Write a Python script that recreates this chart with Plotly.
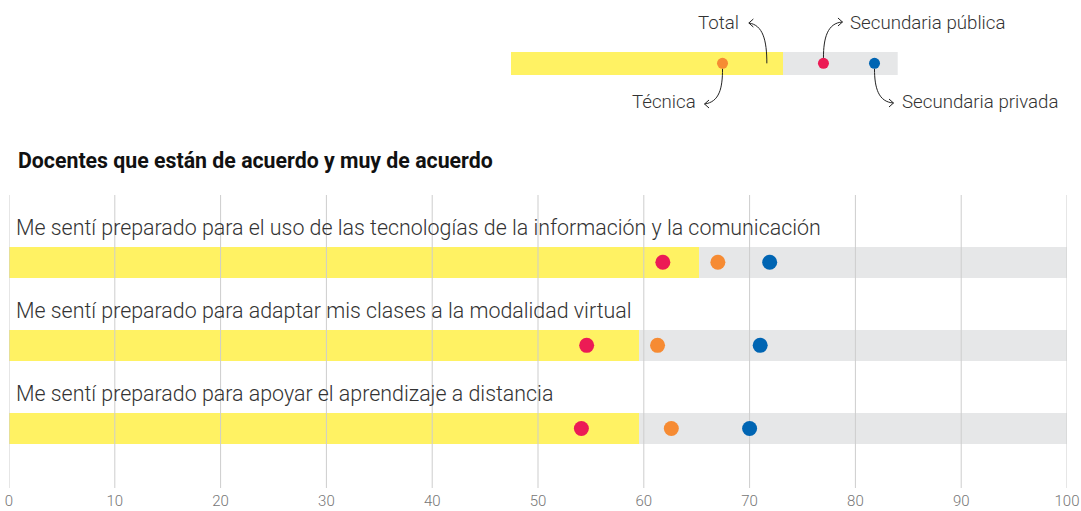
import plotly.graph_objects as go

# ---------------- data ----------------
items = [
    "Me sentí preparado para el uso de las tecnologías de la información y la comunicación",
    "Me sentí preparado para adaptar mis clases a la modalidad virtual",
    "Me sentí preparado para apoyar el aprendizaje a distancia",
]
total = [65.2, 59.5, 59.5]
publica = [61.8, 54.6, 54.1]
tecnica = [67.0, 61.3, 62.6]
privada = [71.9, 71.0, 70.0]

legend_total = 70.3
legend_tecnica = 54.7
legend_publica = 80.8
legend_privada = 94.0

tick_vals = [0, 10, 20, 30, 40, 50, 60, 70, 80, 90, 100]
tick_text = [str(t) for t in tick_vals]

title_text = "Docentes que están de acuerdo y muy de acuerdo"

# ---------------- style ----------------
YELLOW = "#FFF263"
GRAY = "#E6E7E8"
RED = "#EC1B55"
ORANGE = "#F68B33"
BLUE = "#0065B3"
GRID = "#CDCDCD"
FONT = "Roboto"

W, H = 1081, 511
ML, MR, MT, MB = 9, 14, 0, 23
PW, PH = W - ML - MR, H - MT - MB


def px(x):
    return (x - ML) / PW


def py(y):
    return (PH + MT - y) / PH


rows = list(range(len(items)))
y_rng = [2.717, -0.81]

fig = go.Figure()

# background (100%) bars and totals
fig.add_trace(go.Bar(y=rows, x=[100] * len(rows), orientation="h", width=0.373,
                     marker=dict(color=GRAY, line=dict(width=0)), hoverinfo="skip",
                     showlegend=False))
fig.add_trace(go.Bar(y=rows, x=total, orientation="h", width=0.373,
                     marker=dict(color=YELLOW, line=dict(width=0)), name="Total",
                     showlegend=False))

# grid lines drawn above the bars, below the dots
gx, gy = [], []
for t in tick_vals:
    gx += [t, t, None]
    gy += [y_rng[0], y_rng[1], None]
fig.add_trace(go.Scatter(x=gx, y=gy, mode="lines", line=dict(color=GRID, width=1),
                         hoverinfo="skip", showlegend=False, cliponaxis=False))

for vals, col, nm in [(publica, RED, "Secundaria pública"),
                      (tecnica, ORANGE, "Técnica"),
                      (privada, BLUE, "Secundaria privada")]:
    fig.add_trace(go.Scatter(x=vals, y=rows, mode="markers", name=nm,
                             marker=dict(color=col, size=15, line=dict(width=0)),
                             showlegend=False))

# ---------------- legend mini chart ----------------
fig.add_trace(go.Bar(y=[0], x=[100], orientation="h", width=1, xaxis="x2", yaxis="y2",
                     marker=dict(color=GRAY, line=dict(width=0)), hoverinfo="skip",
                     showlegend=False))
fig.add_trace(go.Bar(y=[0], x=[legend_total], orientation="h", width=1, xaxis="x2", yaxis="y2",
                     marker=dict(color=YELLOW, line=dict(width=0)), hoverinfo="skip",
                     showlegend=False))
for v, col in [(legend_tecnica, ORANGE), (legend_publica, RED), (legend_privada, BLUE)]:
    fig.add_trace(go.Scatter(x=[v], y=[0], mode="markers", xaxis="x2", yaxis="y2",
                             marker=dict(color=col, size=11, line=dict(width=0)),
                             hoverinfo="skip", showlegend=False))

LEG_X0, LEG_X1 = 511, 897.7
LEG_Y0, LEG_Y1 = 51.7, 75.0
LEG_YC = (LEG_Y0 + LEG_Y1) / 2


def lx(v):
    return LEG_X0 + v / 100 * (LEG_X1 - LEG_X0)


shapes = []


def arrow(x0, y0, c1, c2, tip, head_dir):
    # bezier in pixel coords -> paper path
    p = "M {} {} C {} {}, {} {}, {} {}".format(
        px(x0), py(y0), px(c1[0]), py(c1[1]), px(c2[0]), py(c2[1]), px(tip[0]), py(tip[1]))
    hx = tip[0] - head_dir * 4.5
    p += " M {} {} L {} {} L {} {}".format(px(hx), py(tip[1] - 4), px(tip[0]), py(tip[1]),
                                           px(hx), py(tip[1] + 4))
    shapes.append(dict(type="path", path=p, xref="paper", yref="paper",
                       line=dict(color="#222222", width=1), layer="above"))


# Total (points at end region of yellow bar)
xt = lx(legend_total) - 16
arrow(xt, LEG_YC, (xt, 40), (xt - 4, 25), (xt - 18, 23), -1)
# Técnica
xo = lx(legend_tecnica)
arrow(xo, LEG_YC + 5.5, (xo, 88), (xo - 3, 102), (xo - 18, 104), -1)
# Secundaria pública
xr = lx(legend_publica)
arrow(xr, LEG_YC - 5.5, (xr, 38), (xr + 4, 23), (xr + 19, 22), 1)
# Secundaria privada
xb = lx(legend_privada)
arrow(xb, LEG_YC + 5.5, (xb, 88), (xb + 4, 102), (xb + 19, 103), 1)

annotations = []
leg_font = dict(family=FONT, size=18.7, color="#333333", weight=300)
annotations.append(dict(text="Total", xref="paper", yref="paper", x=px(741), y=py(23),
                        xanchor="right", yanchor="middle", showarrow=False, font=leg_font))
annotations.append(dict(text="Técnica", xref="paper", yref="paper", x=px(698), y=py(102),
                        xanchor="right", yanchor="middle", showarrow=False, font=leg_font))
annotations.append(dict(text="Secundaria pública", xref="paper", yref="paper", x=px(848),
                        y=py(23), xanchor="left", yanchor="middle", showarrow=False,
                        font=leg_font))
annotations.append(dict(text="Secundaria privada", xref="paper", yref="paper", x=px(899.5),
                        y=py(102), xanchor="left", yanchor="middle", showarrow=False,
                        font=leg_font))

annotations.append(dict(text="<b>" + title_text + "</b>", xref="paper", yref="paper",
                        x=px(16), y=py(160), xanchor="left", yanchor="middle",
                        showarrow=False, font=dict(family=FONT, size=21.3, color="#111111")))

for r, lab in zip(rows, items):
    annotations.append(dict(text=lab, xref="x", yref="y", x=0, y=r - 0.415, xshift=5,
                            xanchor="left", yanchor="middle", showarrow=False,
                            font=dict(family=FONT, size=21.4, color="#333333", weight=300)))

fig.update_layout(
    width=W, height=H,
    margin=dict(l=ML, r=MR, t=MT, b=MB, pad=0),
    paper_bgcolor="white", plot_bgcolor="white",
    barmode="overlay", bargap=0,
    showlegend=False,
    xaxis=dict(range=[0, 100], domain=[0, 1], tickvals=tick_vals, ticktext=tick_text,
               showgrid=False, zeroline=False, showline=False, ticks="",
               ticklabelstandoff=2, automargin=False,
               tickfont=dict(family=FONT, size=15, color="#767676", weight=300),
               fixedrange=True),
    yaxis=dict(range=y_rng, domain=[0, py(195)], showgrid=False, zeroline=False,
               showticklabels=False, showline=False, fixedrange=True, automargin=False),
    xaxis2=dict(range=[0, 100], domain=[px(LEG_X0), px(LEG_X1)], anchor="y2", visible=False,
                fixedrange=True, automargin=False),
    yaxis2=dict(range=[-0.5, 0.5], domain=[py(LEG_Y1), py(LEG_Y0)], anchor="x2",
                visible=False, fixedrange=True, automargin=False),
    shapes=shapes,
    annotations=annotations,
)

fig.write_html("out.html", config={"displayModeBar": False},
               post_script="document.body.style.margin='0px';document.body.style.overflow='hidden';")
